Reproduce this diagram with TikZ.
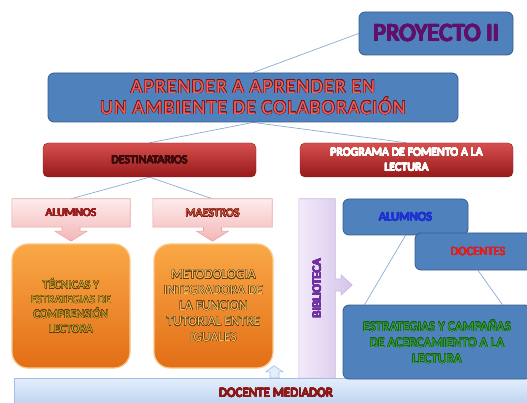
\documentclass[tikz,border=0pt]{standalone}
\usepackage{fontspec}
\setmainfont{Carlito}
\usepackage{contour}
\contourlength{0.3pt}
\newcommand\boldtxt[1]{\contour{.}{#1}}
\newcommand\outtxt[3]{\textcolor{#1}{\contour{#2}{#3}}}
\usetikzlibrary{calc}
\definecolor{bluefill}{RGB}{79,129,189}
\definecolor{bluedark}{RGB}{56,93,138}
\definecolor{projtext}{RGB}{96,16,104}
\definecolor{redtop}{RGB}{214,80,78}
\definecolor{redbot}{RGB}{150,25,25}
\definecolor{redline}{RGB}{140,30,30}
\definecolor{pinktop}{RGB}{253,236,236}
\definecolor{pinkbot}{RGB}{244,182,182}
\definecolor{pinkline}{RGB}{232,165,165}
\definecolor{orangetop}{RGB}{250,168,70}
\definecolor{orangebot}{RGB}{226,110,22}
\definecolor{orangeline}{RGB}{250,200,140}
\definecolor{lavtop}{RGB}{242,234,250}
\definecolor{lavbot}{RGB}{214,196,234}
\definecolor{lavline}{RGB}{200,182,226}
\definecolor{bartop}{RGB}{228,238,251}
\definecolor{barbot}{RGB}{182,206,240}
\definecolor{barline}{RGB}{160,190,230}
\definecolor{linkc}{RGB}{140,170,210}
\definecolor{headred}{RGB}{240,96,92}
\definecolor{headdark}{RGB}{120,20,20}
\definecolor{destc}{RGB}{60,12,12}
\definecolor{alumc}{RGB}{155,28,28}
\definecolor{maesc}{RGB}{206,100,62}
\definecolor{tecc}{RGB}{196,178,48}
\definecolor{metc}{RGB}{240,200,110}
\definecolor{outdark}{RGB}{100,56,12}
\definecolor{bibc}{RGB}{112,48,160}
\definecolor{alumbc}{RGB}{30,50,210}
\definecolor{docc}{RGB}{226,30,30}
\definecolor{estrc}{RGB}{50,168,50}
\definecolor{estrdark}{RGB}{24,90,24}
\definecolor{medc}{RGB}{140,24,24}
\pgfdeclarelayer{links}
\pgfdeclarelayer{shapes}
\pgfsetlayers{links,shapes,main}
\begin{document}
\begin{tikzpicture}[x=1pt,y=-1pt,
  bluebox/.style={draw=bluedark, fill=bluefill, rounded corners=6pt, line width=0.8pt, inner sep=0pt, align=center},
  redbox/.style={draw=redline, top color=redtop, bottom color=redbot, rounded corners=5pt, inner sep=0pt, align=center},
  textonly/.style={inner sep=0pt, align=center},
  pinkshape/.style={draw=pinkline, top color=pinktop, bottom color=pinkbot, line width=0.6pt},
  orangebox/.style={draw=orangeline, line width=1.2pt, top color=orangetop, bottom color=orangebot, rounded corners=16pt, inner sep=0pt, align=center, font=\fontsize{12}{14.7}\selectfont},
  lavshape/.style={draw=lavline, left color=lavtop, right color=lavbot, line width=0.6pt},
  barbox/.style={draw=barline, top color=bartop, bottom color=barbot, inner sep=0pt},
  link/.style={draw=linkc, line width=0.7pt}
]
\useasboundingbox (0,0) rectangle (527,403);

% bottom bar
\node[barbox, minimum width=524, minimum height=32] (bar) at (276,394) {};
\node[textonly, text=medc, font=\fontsize{13}{15}\selectfont] (med) at (276,393) {\boldtxt{DOCENTE MEDIADOR}};

% top level
\node[bluebox, minimum width=154, minimum height=43, text=projtext, font=\fontsize{25}{30}\selectfont] (proj) at (436,33.5) {\contourlength{0.7pt}\boldtxt{PROYECTO II}};
\node[bluebox, minimum width=410, minimum height=49, font=\fontsize{20}{21}\selectfont\addfontfeature{LetterSpace=5.5}] (main) at (253,97.5)
  {\contourlength{0.5pt}\outtxt{headred}{headdark}{APRENDER A APRENDER EN}\\ \contourlength{0.5pt}\outtxt{headred}{headdark}{UN AMBIENTE DE COLABORACIÓN}};

\node[redbox, minimum width=213, minimum height=34, text=destc, font=\fontsize{12}{14}\selectfont] (dest) at (149.5,160) {\boldtxt{DESTINATARIOS}};
\node[redbox, minimum width=213, minimum height=34, text=white, font=\fontsize{12}{15}\selectfont] (prog) at (406.5,160) {\boldtxt{PROGRAMA DE FOMENTO A LA}\\\boldtxt{LECTURA}};

% pink callouts
\node[textonly, minimum width=118, minimum height=28, text=alumc, font=\fontsize{12}{14}\selectfont] (alumA) at (71,213) {\boldtxt{ALUMNOS}};
\node[textonly, minimum width=119, minimum height=28, font=\fontsize{12}{14}\selectfont] (maesA) at (212.5,213) {\contourlength{0.35pt}\outtxt{maesc}{headdark}{MAESTROS}};

% orange boxes
\node[orangebox, minimum width=118, minimum height=124] (tec) at (71,306)
  {\outtxt{tecc}{outdark}{TÉCNICAS Y}\\\outtxt{tecc}{outdark}{ESTRATEGIAS DE}\\\outtxt{tecc}{outdark}{COMPRENSIÓN}\\\outtxt{tecc}{outdark}{LECTORA}};
\node[orangebox, minimum width=119, minimum height=124, font=\fontsize{13.5}{15.6}\selectfont] (met) at (213.5,306)
  {\outtxt{metc}{outdark}{METODOLOGIA}\\\outtxt{metc}{outdark}{INTEGRADORA DE}\\\outtxt{metc}{outdark}{LA FUNCION}\\\outtxt{metc}{outdark}{TUTORIAL ENTRE}\\\outtxt{metc}{outdark}{IGUALES}};

% biblioteca
\node[textonly, minimum width=36, minimum height=179] (bib) at (317,288.5) {};
\node[textonly, rotate=90, text=bibc, font=\fontsize{12.5}{14}\selectfont] (bibt) at (bib.center) {\boldtxt{BIBLIOTECA}};

% right side blue boxes
\node[bluebox, minimum width=188, minimum height=74, font=\fontsize{13.5}{16}\selectfont] (estr) at (437,342)
  {\contourlength{0.35pt}\outtxt{estrc}{estrdark}{ESTRATEGIAS Y CAMPAÑAS}\\\contourlength{0.35pt}\outtxt{estrc}{estrdark}{DE ACERCAMIENTO A LA}\\\contourlength{0.35pt}\outtxt{estrc}{estrdark}{LECTURA}};
\node[bluebox, minimum width=125, minimum height=36, text=alumbc, font=\fontsize{12.5}{14}\selectfont] (alumB) at (405.5,217) {\boldtxt{ALUMNOS}};
\node[bluebox, minimum width=126, minimum height=37, text=docc, font=\fontsize{12.5}{14}\selectfont] (doc) at (478,251.5) {\boldtxt{DOCENTES}};

% shapes drawn beneath text
\begin{pgfonlayer}{shapes}
  \path[pinkshape] (alumA.north west) -- (alumA.north east) -- (alumA.south east)
    -- ($(alumA.south)+(9,0)$) -- ++(0,4) -- ++(7,0) -- ($(alumA.south)+(0,14)$)
    -- ($(alumA.south)+(-16,4)$) -- ++(7,0) -- ($(alumA.south)+(-9,0)$) -- (alumA.south west) -- cycle;
  \path[pinkshape] (maesA.north west) -- (maesA.north east) -- (maesA.south east)
    -- ($(maesA.south)+(9,0)$) -- ++(0,4) -- ++(7,0) -- ($(maesA.south)+(0,14)$)
    -- ($(maesA.south)+(-16,4)$) -- ++(7,0) -- ($(maesA.south)+(-9,0)$) -- (maesA.south west) -- cycle;
  \path[lavshape] (bib.north west) -- (bib.north east) -- ($(bib.east)+(0,-9.5)$)
    -- ++(6,0) -- ++(0,-4) -- ($(bib.east)+(17,-3.5)$) -- ++(-11,10) -- ++(0,-4) -- ++(-6,0)
    -- (bib.south east) -- (bib.south west) -- cycle;
  \path[draw=barline, fill=bartop, line width=0.6pt] ($(bar.north)+(-6,0)$) -- ++(0,-6) -- ++(-4,0)
    -- ($(bar.north)+(-2,-12)$) -- ++(9,6) -- ++(-4,0) -- ++(0,6) -- cycle;
\end{pgfonlayer}

% connectors
\begin{pgfonlayer}{links}
  \draw[link] (proj.west) -- (main.north);
  \draw[link] (main.south) -- (dest.north);
  \draw[link] (main.south) -- (prog.north);
  \draw[link] (dest.south) -- (alumA.north);
  \draw[link] (dest.south) -- (maesA.north);
  \draw[link] (alumB.south) -- ($(estr.north west)+(22,0)$);
  \draw[link] (doc.south) -- ($(estr.north east)+(-29,0)$);
\end{pgfonlayer}
\end{tikzpicture}
\end{document}
